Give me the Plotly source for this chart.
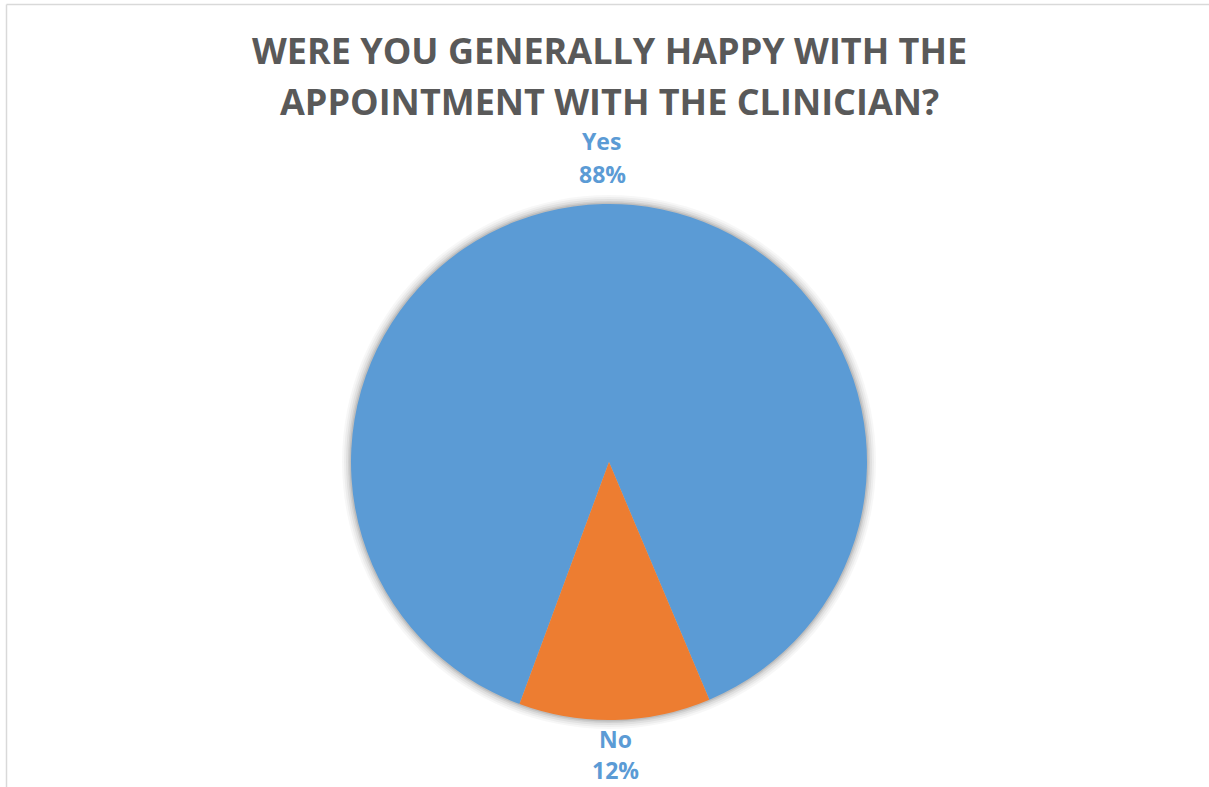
import math
import plotly.graph_objects as go

# Survey answers
answers = ["Yes", "No"]
shares = [88, 12]
slice_colors = ["#5B9BD5", "#ED7D31"]
title_lines = ["WERE YOU GENERALLY HAPPY WITH THE", "APPOINTMENT WITH THE CLINICIAN?"]

W, H = 1209, 787
cx, cy, R = 609, 462, 258          # pie centre and radius in pixels
start_angle = 200.3                # where the first slice begins, clockwise from 12 o'clock

fig = go.Figure()

fig.add_trace(go.Pie(
    labels=answers,
    values=shares,
    sort=False,
    direction="clockwise",
    rotation=start_angle,
    marker=dict(colors=slice_colors, line=dict(width=0)),
    textinfo="none",
    hoverinfo="label+percent",
    showlegend=False,
    domain=dict(x=[(cx - R) / W, (cx + R) / W],
                y=[(H - cy - R) / H, (H - cy + R) / H]),
))

shapes = []
# soft shadow ring around the pie
for grow, alpha in [(9, 0.03), (7, 0.04), (5, 0.05), (3, 0.07), (1.5, 0.09)]:
    r = R + grow
    shapes.append(dict(
        type="circle", xref="paper", yref="paper", layer="below",
        x0=(cx - r) / W, x1=(cx + r) / W,
        y0=(H - cy - r) / H, y1=(H - cy + r) / H,
        fillcolor=f"rgba(0,0,0,{alpha})", line=dict(width=0),
    ))
# chart-area frame (top and left edges visible)
shapes.append(dict(type="line", xref="paper", yref="paper",
                   x0=6.5 / W, x1=1, y0=1 - 4.5 / H, y1=1 - 4.5 / H,
                   line=dict(color="#D9D9D9", width=1.5)))
shapes.append(dict(type="line", xref="paper", yref="paper",
                   x0=6.5 / W, x1=6.5 / W, y0=0, y1=1 - 4.5 / H,
                   line=dict(color="#D9D9D9", width=1.5)))

label_font = dict(family="Open Sans", size=23, color="#5B9BD5", weight="bold")

# data labels (name above percentage) placed outside each slice at its mid-angle
annotations = []
total = sum(shares)
acc = 0.0
for lab, val in zip(answers, shares):
    mid = start_angle + 360 * (acc + val / 2) / total
    acc += val
    a = math.radians(mid)
    ux, uy = math.sin(a), math.cos(a)          # uy > 0 means upward
    if uy > 0:
        dists = [R + 63, R + 30]               # name, percent (above the pie)
    else:
        dists = [R + 19, R + 50]               # name, percent (below the pie)
    texts = [lab, f"{val / total * 100:.0f}%"]
    for txt, d in zip(texts, dists):
        px = cx + d * ux
        py = cy - d * uy
        annotations.append(dict(
            x=px / W, y=1 - py / H, xref="paper", yref="paper",
            xanchor="center", yanchor="middle",
            text=txt, showarrow=False, font=label_font,
        ))

# title, two centred lines
for i, line in enumerate(title_lines):
    annotations.append(dict(
        x=cx / W, y=1 - (51 + 50 * i) / H, xref="paper", yref="paper",
        xanchor="center", yanchor="middle", showarrow=False,
        text=line,
        font=dict(family="Open Sans", size=36, color="#595959", weight="bold"),
    ))

fig.update_layout(
    width=W, height=H,
    margin=dict(l=0, r=0, t=0, b=0),
    paper_bgcolor="white",
    plot_bgcolor="white",
    shapes=shapes,
    annotations=annotations,
)

fig.write_html("out.html")
